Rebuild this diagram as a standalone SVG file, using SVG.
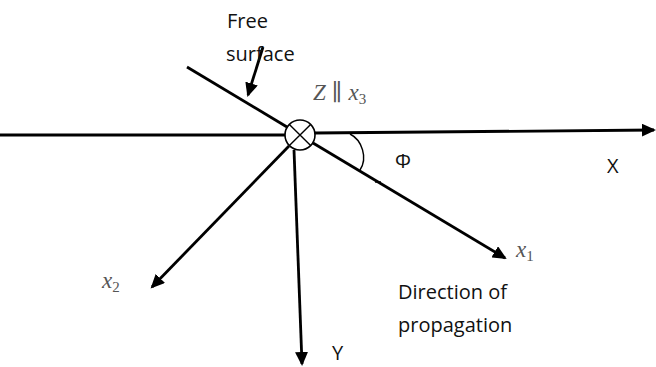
<svg xmlns="http://www.w3.org/2000/svg" width="656" height="367" viewBox="0 0 656 367">
<style>
.ln{stroke:#000;stroke-width:2.8;fill:none}
.thin{stroke:#000;stroke-width:1.4;fill:none}
.lbl{font-family:"Open Sans","Liberation Sans",sans-serif;font-size:20px;fill:#111}
.math{font-family:"Liberation Serif","DejaVu Serif",serif;font-size:23px;fill:#555}
.it{font-style:italic}
.sub{font-size:15px}
</style>
<defs>
<marker id="ah" markerUnits="userSpaceOnUse" markerWidth="15" markerHeight="13" refX="12" refY="6.5" orient="auto">
<path d="M0,0 L14,6.5 L0,13 z" fill="#000"/>
</marker>
</defs>
<rect width="656" height="367" fill="#fff"/>
<g id="connectors">
<path class="ln" d="M0 135 L285 135"/>
<path class="ln" d="M315 133 L654 130" marker-end="url(#ah)"/>
<path class="ln" d="M187 67 L287 127"/>
<path class="ln" d="M313 143 L505 258" marker-end="url(#ah)"/>
<path class="ln" d="M289 146 L152 287" marker-end="url(#ah)"/>
<path class="ln" d="M294 150 L302 364" marker-end="url(#ah)"/>
<path class="ln" d="M263 47 L248 95" marker-end="url(#ah)"/>
<path class="thin" d="M350 134 C362 140 368 158 360 170"/>
<path class="thin" d="M375 182 L381 182"/>
</g>
<g id="origin">
<circle cx="300" cy="135" r="15" fill="#fff" stroke="#000" stroke-width="1.6"/>
<path class="thin" d="M289.4 124.4 L310.6 145.6 M310.6 124.4 L289.4 145.6"/>
</g>
<g id="free-surface">
<text class="lbl" x="227" y="28" font-size="21">Free</text>
<text class="lbl" x="226" y="61" font-size="21">surface</text>
</g>
<g id="z-label">
<text class="math" x="313" y="100"><tspan class="it">Z</tspan><tspan dx="6">∥</tspan><tspan class="it" dx="6">x</tspan><tspan class="sub" dy="4">3</tspan></text>
</g>
<g id="phi">
<text class="lbl" x="395" y="168">Φ</text>
</g>
<g id="x-axis">
<text class="lbl" x="607" y="173">X</text>
</g>
<g id="x1-label">
<text class="math" x="516" y="257"><tspan class="it">x</tspan><tspan class="sub" dy="4">1</tspan></text>
</g>
<g id="x2-label">
<text class="math" x="102" y="288"><tspan class="it">x</tspan><tspan class="sub" dy="4">2</tspan></text>
</g>
<g id="direction">
<text class="lbl" x="398" y="299">Direction of</text>
<text class="lbl" x="398" y="332">propagation</text>
</g>
<g id="y-axis">
<text class="lbl" x="332" y="360">Y</text>
</g>
</svg>
